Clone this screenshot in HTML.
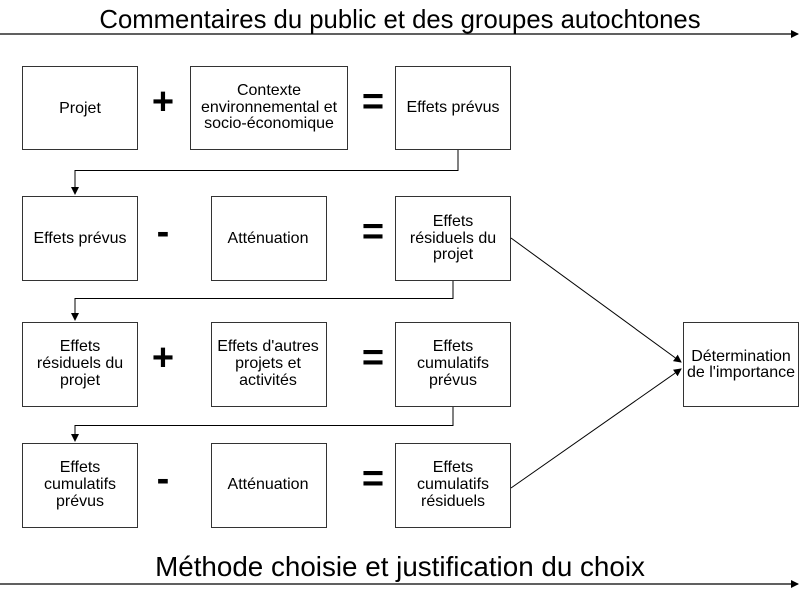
<!DOCTYPE html>
<html><head><meta charset="utf-8"><style>
body{margin:0;background:#fff;}
svg{display:block}
text{font-family:"Liberation Sans",Arial,sans-serif;fill:#000}
.b{font-size:16px;text-anchor:middle}
.op{font-size:38px;text-anchor:middle;font-weight:bold}
</style></head><body>
<svg width="800" height="591" viewBox="0 0 800 591" xmlns="http://www.w3.org/2000/svg">
<defs><marker id="a" markerWidth="8" markerHeight="8" refX="7" refY="4" orient="auto" markerUnits="userSpaceOnUse"><path d="M0,0L8,4L0,8z" fill="#000"/></marker></defs>
<text x="400" y="28" font-size="25.7" text-anchor="middle">Commentaires du public et des groupes autochtones</text>
<line x1="0" y1="34" x2="798" y2="34" stroke="#000" stroke-width="1.3" marker-end="url(#a)"/>
<text x="400" y="576" font-size="27.8" text-anchor="middle">Méthode choisie et justification du choix</text>
<line x1="0" y1="584" x2="798" y2="584" stroke="#000" stroke-width="1.3" marker-end="url(#a)"/>
<g fill="none" stroke="#333" stroke-width="1">
<rect x="22.5" y="66.5" width="115" height="83"/>
<rect x="190.5" y="66.5" width="157" height="83"/>
<rect x="395.5" y="66.5" width="115" height="83"/>
<rect x="22.5" y="196.5" width="115" height="84"/>
<rect x="211.5" y="196.5" width="115" height="84"/>
<rect x="395.5" y="196.5" width="115" height="84"/>
<rect x="22.5" y="322.5" width="115" height="84"/>
<rect x="211.5" y="322.5" width="115" height="84"/>
<rect x="395.5" y="322.5" width="115" height="84"/>
<rect x="22.5" y="443.5" width="115" height="84"/>
<rect x="211.5" y="443.5" width="115" height="84"/>
<rect x="395.5" y="443.5" width="115" height="84"/>
<rect x="683.5" y="322.5" width="115" height="84"/>
</g>
<g fill="none" stroke="#000" stroke-width="1">
<polyline points="458,150 458,170.5 75,170.5 75,194" marker-end="url(#a)"/>
<polyline points="453,281 453,298.5 75,298.5 75,320" marker-end="url(#a)"/>
<polyline points="453,407 453,425.5 75,425.5 75,441" marker-end="url(#a)"/>
<line x1="511" y1="238" x2="681" y2="362" marker-end="url(#a)"/>
<line x1="511" y1="488" x2="681" y2="369" marker-end="url(#a)"/>
</g>
<text class="b" x="80" y="113">Projet</text>
<text class="b" x="269" y="95">Contexte</text>
<text class="b" x="269" y="112">environnemental et</text>
<text class="b" x="269" y="128">socio-économique</text>
<text class="b" x="453" y="112">Effets prévus</text>
<text class="b" x="80" y="243">Effets prévus</text>
<text class="b" x="268" y="243">Atténuation</text>
<text class="b" x="453" y="226">Effets</text>
<text class="b" x="453" y="243">résiduels du</text>
<text class="b" x="453" y="259">projet</text>
<text class="b" x="80" y="351">Effets</text>
<text class="b" x="80" y="368">résiduels du</text>
<text class="b" x="80" y="385">projet</text>
<text class="b" x="268" y="351">Effets d'autres</text>
<text class="b" x="268" y="368">projets et</text>
<text class="b" x="268" y="385">activités</text>
<text class="b" x="453" y="351">Effets</text>
<text class="b" x="453" y="368">cumulatifs</text>
<text class="b" x="453" y="385">prévus</text>
<text class="b" x="80" y="472">Effets</text>
<text class="b" x="80" y="489">cumulatifs</text>
<text class="b" x="80" y="506">prévus</text>
<text class="b" x="268" y="489">Atténuation</text>
<text class="b" x="453" y="472">Effets</text>
<text class="b" x="453" y="489">cumulatifs</text>
<text class="b" x="453" y="506">résiduels</text>
<text class="b" x="741" y="361">Détermination</text>
<text class="b" x="741" y="377">de l'importance</text>
<text class="op" x="163" y="114">+</text>
<text class="op" x="373" y="114">=</text>
<text class="op" x="163" y="244">-</text>
<text class="op" x="373" y="244">=</text>
<text class="op" x="163" y="370">+</text>
<text class="op" x="373" y="370">=</text>
<text class="op" x="163" y="491">-</text>
<text class="op" x="373" y="491">=</text>
</svg>
</body></html>
